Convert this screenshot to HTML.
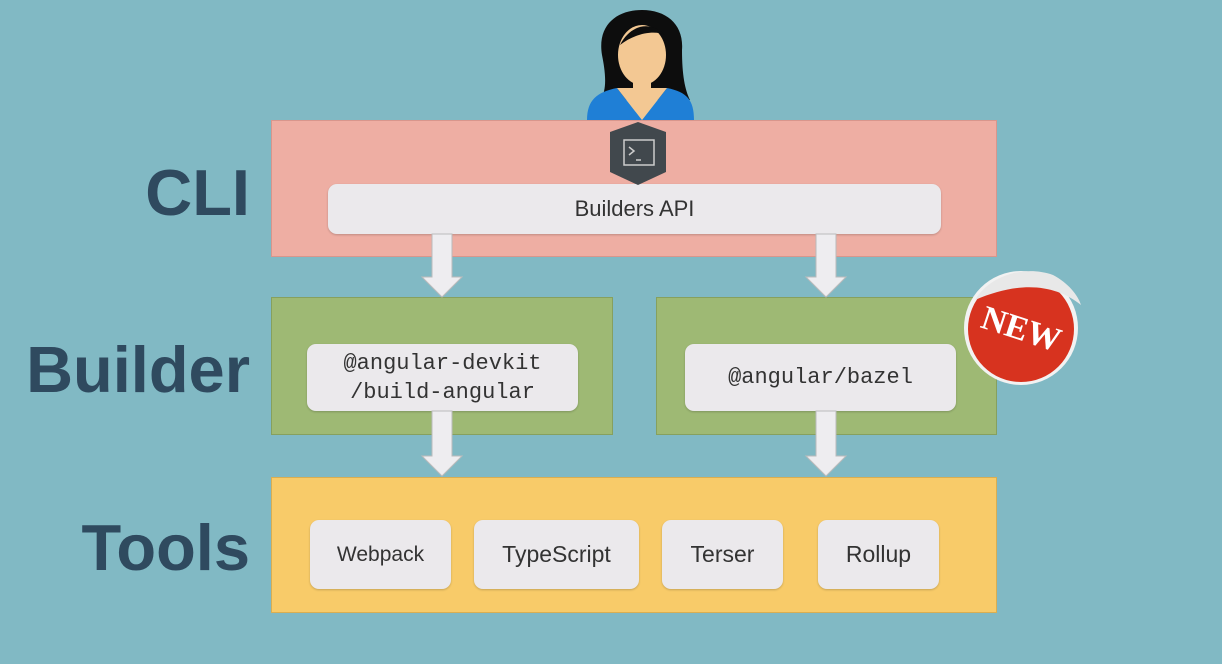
<!DOCTYPE html>
<html><head><style>
*{margin:0;padding:0;box-sizing:border-box}
body{width:1222px;height:664px;background:#81b9c4;position:relative;overflow:hidden;font-family:"Liberation Sans",sans-serif}
.a{position:absolute}
.lbl{position:absolute;right:972px;font-weight:bold;color:#2f4a5f;font-size:65px;letter-spacing:0}
.pill{position:absolute;background:#ebe9ec;border-radius:9px;display:flex;align-items:center;justify-content:center;color:#333;font-size:23px;box-shadow:0 1px 2px rgba(0,0,0,.2)}
.mono{font-family:"Liberation Mono",monospace;font-size:22px;text-align:center;line-height:29px}
</style></head><body>
<div class="lbl" style="top:155px">CLI</div>
<div class="lbl" style="top:332px">Builder</div>
<div class="lbl" style="top:510px">Tools</div>

<div class="a" style="left:271px;top:120px;width:726px;height:137px;background:#eeaea3;border:1px solid #d8968c"></div>
<div class="pill" style="left:328px;top:184px;width:613px;height:50px;font-size:22px">Builders API</div>

<div class="a" style="left:271px;top:297px;width:342px;height:138px;background:#9eb974;border:1px solid #86a05e"></div>
<div class="a" style="left:656px;top:297px;width:341px;height:138px;background:#9eb974;border:1px solid #86a05e"></div>
<div class="pill mono" style="left:307px;top:344px;width:271px;height:67px">@angular-devkit<br>/build-angular</div>
<div class="pill mono" style="left:685px;top:344px;width:271px;height:67px">@angular/bazel</div>

<div class="a" style="left:271px;top:477px;width:726px;height:136px;background:#f8cb69;border:1px solid #d9ae52"></div>
<div class="pill" style="left:310px;top:520px;width:141px;height:69px;font-size:21px">Webpack</div>
<div class="pill" style="left:474px;top:520px;width:165px;height:69px">TypeScript</div>
<div class="pill" style="left:662px;top:520px;width:121px;height:69px">Terser</div>
<div class="pill" style="left:818px;top:520px;width:121px;height:69px">Rollup</div>

<svg class="a" style="left:0;top:0" width="1222" height="664">
<g fill="#eeedf0" stroke="#bbb" stroke-width="1">
<path d="M432 234h20v43h10l-20 20-20-20h10z"/>
<path d="M816 234h20v43h10l-20 20-20-20h10z"/>
<path d="M432 411h20v45h10l-20 20-20-20h10z"/>
<path d="M816 411h20v45h10l-20 20-20-20h10z"/>
</g>
<path d="M602 55c-5-30 15-45 40-45s42 15 40 40c0 25 3 40 8 50l-90 0c8-10 5-30 2-45z" fill="#0d0d0d"/>
<ellipse cx="642" cy="55" rx="24" ry="30" fill="#f3c893"/>
<path d="M620 45c10-20 30-25 45-10c-10-5-30-2-45 10z" fill="#0d0d0d"/>
<rect x="633" y="78" width="18" height="20" fill="#f3c893"/>
<path d="M587 120c0-20 10-28 30-32l25 32l25-32c20 4 27 12 27 32z" fill="#1f7fd6"/>
<path d="M617 88l25 32l25-32z" fill="#f3c893"/>
<path d="M638 122l28 10v40l-28 13-28-13v-40z" fill="#41484d"/>
<rect x="624" y="140" width="30" height="25" fill="none" stroke="#ccc" stroke-width="1.5"/>
<path d="M629 147l5 4-5 4M636 160h5" stroke="#ccc" stroke-width="1.5" fill="none"/>
<circle cx="1021" cy="328" r="57" fill="#f2f2f2"/>
<circle cx="1021" cy="329" r="53" fill="#d7331f"/>
<path d="M975 300c15-25 50-35 78-25c15 8 25 20 28 30c-25-20-60-25-106-5z" fill="#e8e8e8"/>
<text x="1021" y="340" font-family="Liberation Serif,serif" font-weight="bold" font-size="34" fill="#fff" text-anchor="middle" transform="rotate(18 1021 330)">NEW</text>
</svg>
</body></html>
